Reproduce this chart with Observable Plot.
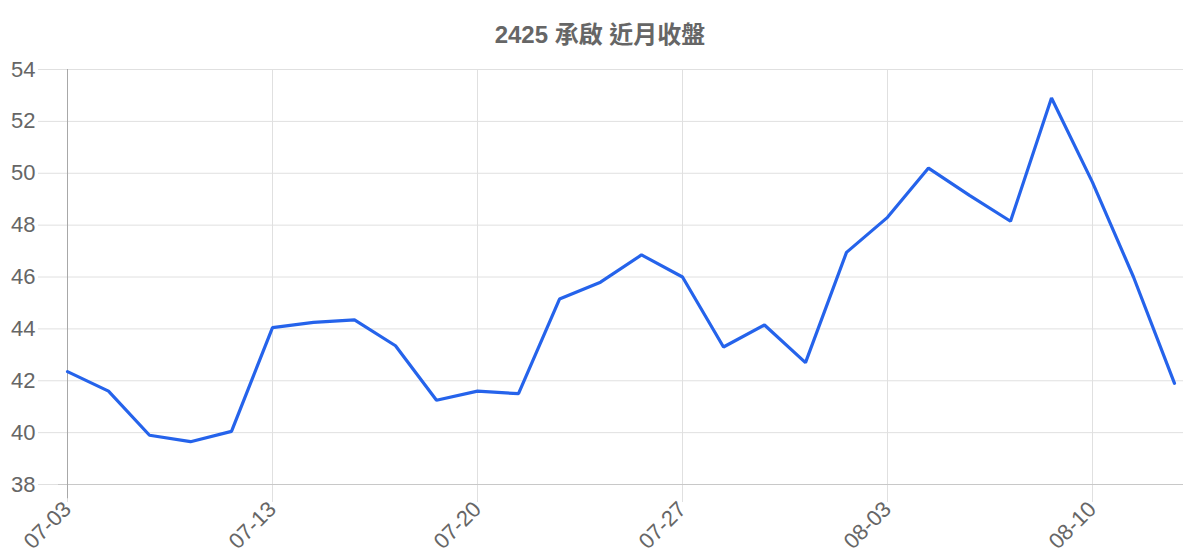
<!DOCTYPE html>
<html>
<head>
<meta charset="utf-8">
<script src="https://cdn.jsdelivr.net/npm/d3@7"></script>
<script src="https://cdn.jsdelivr.net/npm/@observablehq/plot@0.6"></script>
<style>
  html, body { margin: 0; padding: 0; background: #fff; }
  #title { height: 24px; padding-top: 23px; line-height: 24px; font-size: 24px; font-weight: bold; color: #666;
           text-align: center; font-family: "Liberation Sans", Arial, "Noto Sans CJK TC", sans-serif; }
  #chart svg { display: block; overflow: visible; }
</style>
</head>
<body>
<div id="title">2425 承啟 近月收盤</div>
<div id="chart"></div>
<script>
const dates = ["07-03","07-06","07-07","07-08","07-09","07-13","07-14","07-15","07-16","07-17",
               "07-20","07-21","07-22","07-23","07-24","07-27","07-28","07-29","07-30","07-31",
               "08-03","08-04","08-05","08-06","08-07","08-10","08-11","08-12"];
const closes = [42.35, 41.6, 39.9, 39.65, 40.05, 44.05, 44.25, 44.35, 43.35, 41.25,
                41.6, 41.5, 45.15, 45.8, 46.85, 46.0, 43.3, 44.15, 42.7, 46.95,
                48.3, 50.2, 49.15, 48.15, 52.9, 49.65, 46.0, 41.9];
const yTicks = [38, 40, 42, 44, 46, 48, 50, 52, 54];
const xTickLabels = ["07-03","07-13","07-20","07-27","08-03","08-10"];

const grid = "#e0e0e0";
const W = 1200, H = 513, M = { marginTop: 22, marginBottom: 76, marginLeft: 58, marginRight: 17 };
const chart = Plot.plot({
  width: W,
  height: H,
  ...M,
  style: { fontFamily: "'Liberation Sans', Arial, sans-serif", color: "#666", background: "white" },
  x: { type: "point", domain: dates, padding: 0, range: [M.marginLeft, W - M.marginRight] },
  y: { domain: [38, 54], range: [H - M.marginBottom, M.marginTop] },
  marks: [
    Plot.gridY(yTicks, { stroke: grid, strokeOpacity: 1 }),
    Plot.gridX(xTickLabels, { stroke: grid, strokeOpacity: 1 }),
    Plot.axisY({ ticks: yTicks, tickSize: 20, tickPadding: 3, fontSize: 22, stroke: grid, fill: "#666" }),
    Plot.axisX({ ticks: xTickLabels, tickRotate: -45, tickSize: 18, tickPadding: 3, fontSize: 22, stroke: grid, fill: "#666" }),
    Plot.ruleY([38], { stroke: "#c8c8c8" }),
    Plot.ruleX([dates[0]], { stroke: "#a8a8a8", y1: 37.45, y2: 54 }),
    Plot.line(dates, { x: d => d, y: (d, i) => closes[i], stroke: "#2563eb", strokeWidth: 3.2, strokeLinejoin: "miter" })
  ]
});
document.getElementById("chart").appendChild(chart);
</script>
</body>
</html>
